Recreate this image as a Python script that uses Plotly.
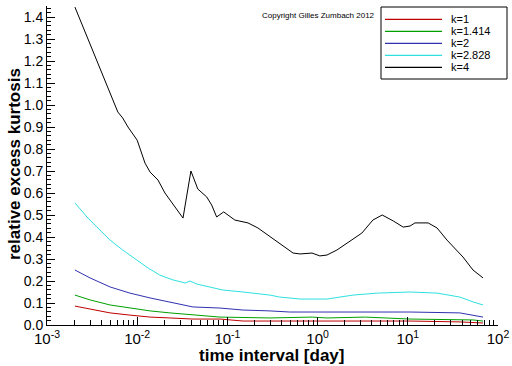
import plotly.graph_objects as go

# ---- data ----
k4_x = [2.04e-3, 2.5e-3, 3.2e-3, 4.2e-3, 5.4e-3, 6.1e-3, 6.9e-3, 7.9e-3, 0.010, 0.0122, 0.0139,
        0.0170, 0.0203, 0.0231, 0.0322, 0.0394, 0.047, 0.059, 0.067, 0.076, 0.091, 0.121, 0.169,
        0.218, 0.25, 0.355, 0.535, 0.64, 0.867, 1.06, 1.27, 1.64, 2.12, 3.1, 4.1, 5.2, 6.9, 8.9,
        10.6, 12.0, 16.8, 21.1, 27.2, 40.9, 52.8, 68.2]
k4_y = [1.445, 1.355, 1.25, 1.127, 1.023, 0.968, 0.941, 0.90, 0.84, 0.736, 0.695,
        0.659, 0.60, 0.568, 0.486, 0.70, 0.618, 0.582, 0.545, 0.491, 0.514, 0.477, 0.464,
        0.441, 0.423, 0.377, 0.327, 0.323, 0.327, 0.314, 0.318, 0.341, 0.373, 0.418, 0.477, 0.50, 0.473, 0.445,
        0.45, 0.464, 0.464, 0.441, 0.386, 0.309, 0.25, 0.214]

k2828_x = [2.04e-3, 2.77e-3, 3.58e-3, 5.0e-3, 6.9e-3, 0.010, 0.0132, 0.0178, 0.0249, 0.034, 0.0385,
           0.046, 0.064, 0.089, 0.149, 0.296, 0.38, 0.64, 1.27, 2.47, 4.6, 10.6, 21.1, 37.8, 52.8, 68.2]
k2828_y = [0.555, 0.491, 0.445, 0.386, 0.341, 0.295, 0.259, 0.227, 0.205, 0.191, 0.20,
           0.186, 0.173, 0.159, 0.15, 0.136, 0.127, 0.118, 0.118, 0.136, 0.145, 0.15, 0.145, 0.127, 0.105, 0.091]

k2_x = [2.04e-3, 3.0e-3, 5.0e-3, 8.3e-3, 0.0139, 0.023, 0.0415, 0.083, 0.149, 0.296, 0.49, 1.27,
        2.95, 10.6, 37.8, 52.8, 68.2]
k2_y = [0.25, 0.214, 0.173, 0.145, 0.123, 0.105, 0.082, 0.077, 0.068, 0.064, 0.059, 0.059,
        0.059, 0.059, 0.055, 0.045, 0.036]

k1414_x = [2.04e-3, 3.0e-3, 5.0e-3, 8.3e-3, 0.0139, 0.023, 0.0415, 0.083, 0.296, 0.87, 1.27,
           3.4, 10.6, 37.8, 52.8, 68.2]
k1414_y = [0.136, 0.114, 0.091, 0.077, 0.064, 0.055, 0.045, 0.036, 0.032, 0.036, 0.032,
           0.036, 0.027, 0.023, 0.023, 0.018]

k1_x = [2.04e-3, 3.0e-3, 5.0e-3, 8.3e-3, 0.0139, 0.023, 0.0415, 0.083, 0.149, 0.296, 1.27,
        10.6, 37.8, 68.2]
k1_y = [0.086, 0.073, 0.055, 0.045, 0.036, 0.032, 0.027, 0.027, 0.018, 0.018, 0.018,
        0.018, 0.014, 0.009]

series_names = ["k=1", "k=1.414", "k=2", "k=2.828", "k=4"]
series_x = [k1_x, k1414_x, k2_x, k2828_x, k4_x]
series_y = [k1_y, k1414_y, k2_y, k2828_y, k4_y]
series_colors = ["#c00000", "#00a000", "#3030b0", "#30e0e0", "#000000"]

x_tickvals = [1e-3, 1e-2, 1e-1, 1e0, 1e1, 1e2]
x_ticktext = ["10<sup>-3</sup>", "10<sup>-2</sup>", "10<sup>-1</sup>",
              "10<sup>0</sup>", "10<sup>1</sup>", "10<sup>2</sup>"]
x_minor = [m * 10.0 ** e for e in range(-3, 2) for m in range(2, 10)]

FONT = "Liberation Sans, Arial, sans-serif"
W, H = 512, 366
ML, MR, MT, MB = 47, 14, 6, 41
PW, PH = W - ML - MR, H - MT - MB


def px(xp):
    return (xp - ML) / PW


def py(yp):
    return (H - MB - yp) / PH


fig = go.Figure()
for name, xs, ys, c in zip(series_names, series_x, series_y, series_colors):
    fig.add_trace(go.Scatter(x=xs, y=ys, mode="lines", name=name,
                             line=dict(color=c, width=1), hoverinfo="skip"))

fig.update_layout(
    width=W, height=H,
    margin=dict(l=ML, r=MR, t=MT, b=MB, autoexpand=False),
    paper_bgcolor="white", plot_bgcolor="white",
    font=dict(family=FONT, color="black"),
    showlegend=False,
    xaxis=dict(type="log", range=[-3, 2], showgrid=False, zeroline=False,
               showline=True, linecolor="black", linewidth=1, automargin=False,
               tickmode="array", tickvals=x_tickvals, ticktext=x_ticktext,
               ticks="inside", ticklen=8, tickcolor="black",
               tickfont=dict(size=15, family=FONT),
               minor=dict(tickmode="array", tickvals=x_minor, ticks="inside",
                          ticklen=5, tickcolor="black", showgrid=False)),
    yaxis=dict(range=[0, 1.45], showgrid=False, zeroline=False,
               showline=True, linecolor="black", linewidth=1, automargin=False,
               dtick=0.1, tick0=0, tickformat=".1f",
               ticks="inside", ticklen=8, tickcolor="black",
               tickfont=dict(size=14, family=FONT),
               minor=dict(dtick=0.02, ticks="inside", ticklen=4, tickcolor="black", showgrid=False)),
)

# axis titles
fig.add_annotation(text="<b>time interval [day]</b>", xref="paper", yref="paper",
                   x=px(272), y=py(355), xanchor="center", yanchor="middle", showarrow=False,
                   font=dict(size=17, family=FONT, color="black"))
fig.add_annotation(text="<b>relative excess kurtosis</b>", xref="paper", yref="paper",
                   x=px(14), y=py(164), xanchor="center", yanchor="middle", showarrow=False,
                   textangle=-90, font=dict(size=17, family=FONT, color="black"))

# copyright
fig.add_annotation(text="Copyright Gilles Zumbach 2012", xref="paper", yref="paper",
                   x=px(377), y=py(15), xanchor="right", yanchor="middle", showarrow=False,
                   font=dict(size=8, family=FONT, color="black"))

# legend box (drawn to match the reference's compact legend)
fig.add_shape(type="rect", xref="paper", yref="paper",
              x0=px(381), x1=px(507), y0=py(79), y1=py(7),
              line=dict(color="black", width=1), fillcolor="white", layer="above")
for i, (name, c) in enumerate(zip(series_names, series_colors)):
    yy = 19.3 + i * 12.0
    fig.add_shape(type="line", xref="paper", yref="paper",
                  x0=px(385), x1=px(442), y0=py(yy), y1=py(yy),
                  line=dict(color=c, width=1.2), layer="above", opacity=1)
    fig.add_annotation(text=name, xref="paper", yref="paper",
                       x=px(449), y=py(yy), xanchor="left", yanchor="middle", showarrow=False,
                       font=dict(size=11, family=FONT, color="black"))

fig.write_html("out.html", config={"displayModeBar": False, "staticPlot": True},
               post_script="document.body.style.margin='0';")
